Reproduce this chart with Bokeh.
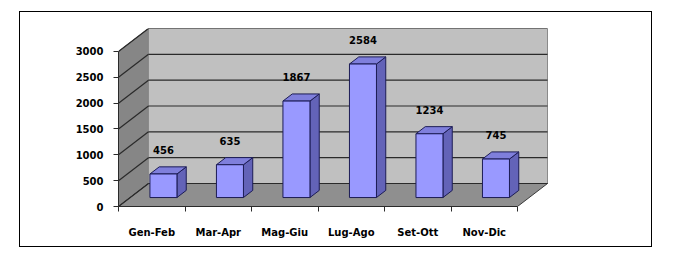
from bokeh.plotting import figure
from bokeh.models import FixedTicker, ColumnDataSource, Range1d
from bokeh.core.properties import value
from bokeh.embed import file_html
from bokeh.resources import INLINE

# ---- data ----
categories = ["Gen-Feb", "Mar-Apr", "Mag-Giu", "Lug-Ago", "Set-Ott", "Nov-Dic"]
values = [456, 635, 1867, 2584, 1234, 745]
y_ticks = [0, 500, 1000, 1500, 2000, 2500, 3000]

# ---- 3D projection parameters (styles / geometry) ----
DX = 0.451      # depth offset in category units
DY = 445.0      # depth offset in value units
F1, F2 = 0.39, 0.70   # bar front / back depth fraction
HW = 0.203      # bar half width
LABEL_OFF = 630
n = len(categories)
x0, x1 = -0.5, n - 0.5
ymax = y_ticks[-1]

p = figure(width=631, height=234, output_backend="svg", toolbar_location=None,
           x_range=Range1d(-0.5, 5.981), y_range=Range1d(0, 3445),
           min_border_left=98, min_border_right=102, min_border_top=16, min_border_bottom=40,
           margin=(12, 0, 0, 20))
p.styles = {"outline": "1px solid #000000"}
p.outline_line_color = None
p.background_fill_color = "white"
p.border_fill_color = "white"
p.xgrid.visible = False
p.ygrid.visible = False

# walls and floor
p.patch([x0, x0 + DX, x0 + DX, x0], [0, DY, ymax + DY, ymax],
        fill_color="#868686", line_color="#5a5a5a", line_width=1)
p.patch([x0 + DX, x1 + DX, x1 + DX, x0 + DX], [DY, DY, ymax + DY, ymax + DY],
        fill_color="#c0c0c0", line_color="#8a8a8a", line_width=1)
p.patch([x0, x1, x1 + DX, x0 + DX], [0, 0, DY, DY],
        fill_color="#8f8f8f", line_color="#3a3a3a", line_width=1)

# gridlines
gx0 = [x0] * len(y_ticks)
gx1 = [x0 + DX] * len(y_ticks)
gy0 = list(y_ticks)
gy1 = [t + DY for t in y_ticks]
p.segment(gx0, gy0, gx1, gy1, line_color="#2a2a2a", line_width=1.2)
p.segment(gx1, gy1, [x1 + DX] * len(y_ticks), gy1, line_color="#2a2a2a", line_width=1.2)

# bars
cx = [i + F1 * DX for i in range(n)]
left = [c - HW for c in cx]
right = [c + HW for c in cx]
bottom = [F1 * DY] * n
top = [F1 * DY + v for v in values]
d = F2 - F1
side_xs = [[r, r + d * DX, r + d * DX, r] for r in right]
side_ys = [[b, b + d * DY, t + d * DY, t] for b, t in zip(bottom, top)]
top_xs = [[l, r, r + d * DX, l + d * DX] for l, r in zip(left, right)]
top_ys = [[t, t, t + d * DY, t + d * DY] for t in top]
p.patches(side_xs, side_ys, fill_color="#6363b8", line_color="#1c1c55", line_width=1)
p.patches(top_xs, top_ys, fill_color="#7f7fdc", line_color="#1c1c55", line_width=1)
p.quad(left=left, right=right, bottom=bottom, top=top,
       fill_color="#9999ff", line_color="#1c1c55", line_width=1)

# data labels
src = ColumnDataSource(dict(x=cx, y=[v + LABEL_OFF for v in values], t=[str(v) for v in values]))
p.text("x", "y", text="t", source=src, text_align="center", text_baseline="middle",
       text_font=value("DejaVu Sans"), text_font_style="bold", text_font_size="10px",
       text_color="#000000")

# y axis
ya = p.yaxis[0]
ya.ticker = FixedTicker(ticks=y_ticks, minor_ticks=[])
ya.bounds = (0, ymax)
ya.axis_line_color = "#2a2a2a"
ya.major_tick_line_color = "#2a2a2a"
ya.major_tick_in = 0
ya.major_tick_out = 5
ya.major_label_standoff = 10
ya.major_label_text_font = "DejaVu Sans"
ya.major_label_text_font_style = "bold"
ya.major_label_text_font_size = "10px"
ya.major_label_text_color = "#000000"

# x axis
xa = p.xaxis[0]
xa.ticker = FixedTicker(ticks=list(range(n)), minor_ticks=[i - 0.5 for i in range(n + 1)])
xa.major_label_overrides = {i: c for i, c in enumerate(categories)}
xa.bounds = (x0, x1)
xa.axis_line_color = "#2a2a2a"
xa.major_tick_line_color = None
xa.major_tick_in = 0
xa.major_tick_out = 0
xa.minor_tick_line_color = "#2a2a2a"
xa.minor_tick_in = 0
xa.minor_tick_out = 5
xa.major_label_standoff = 15
xa.major_label_text_font = "DejaVu Sans"
xa.major_label_text_font_style = "bold"
xa.major_label_text_font_size = "10px"
xa.major_label_text_color = "#000000"

open("out.html", "w").write(file_html(p, INLINE))
